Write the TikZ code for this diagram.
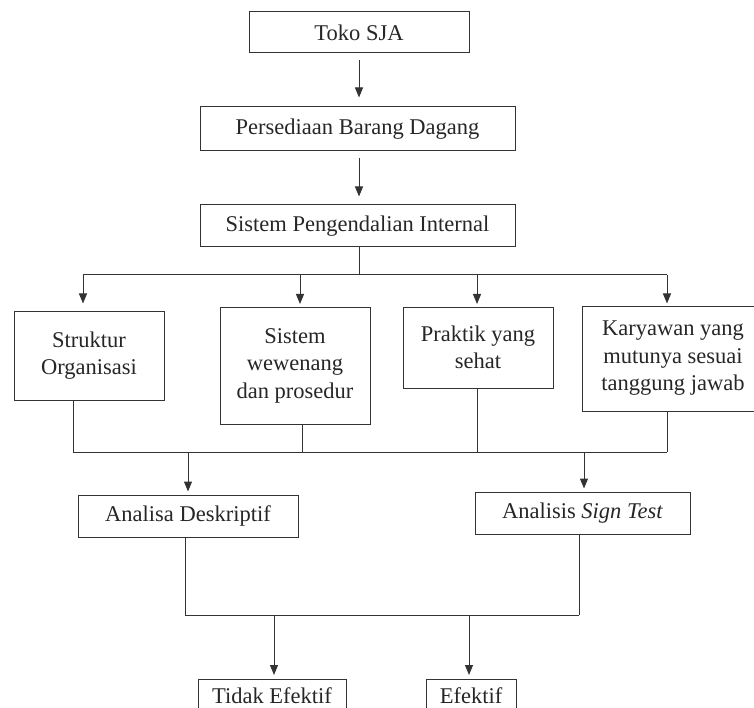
\documentclass[tikz,border=0pt]{standalone}
\usepackage{fontspec}
\setmainfont{Liberation Serif}
\usetikzlibrary{arrows.meta}
\begin{document}
\begin{tikzpicture}[x=1pt,y=-1pt,
  box/.style={draw=black!80, line width=1pt, rectangle, inner sep=0pt, align=center,
    text=black!85, font=\fontsize{22.5}{27.5}\selectfont},
  ln/.style={draw=black!80, line width=1pt},
  arr/.style={ln, -{Triangle[length=10pt,width=8pt]}}]
\useasboundingbox (0,0) rectangle (754,708);
\clip (0,0) rectangle (754,708);
% boxes
\node[box, minimum width=220pt, minimum height=41pt] (toko) at (359,32.5) {Toko SJA};
\node[box, minimum width=315pt, minimum height=44pt] (pers) at (357.5,129) {Persediaan Barang Dagang};
\node[box, minimum width=315pt, minimum height=42pt] (spi) at (357.5,226) {Sistem Pengendalian Internal};
\node[box, minimum width=150pt, minimum height=89pt] (struktur) at (89,355.5) {Struktur\\Organisasi};
\node[box, minimum width=150pt, minimum height=117pt] (sistem) at (295,365.5) {Sistem\\wewenang\\dan prosedur};
\node[box, minimum width=150pt, minimum height=81pt] (praktik) at (478,347.5) {Praktik yang\\sehat};
\node[box, minimum width=182pt, minimum height=105pt] (karyawan) at (673,358.5) {Karyawan yang\\mutunya sesuai\\tanggung jawab};
\node[box, minimum width=220pt, minimum height=42pt] (deskriptif) at (188,516) {Analisa Deskriptif};
\node[box, minimum width=215pt, minimum height=42pt] (sign) at (582.5,513) {Analisis \textit{Sign Test}};
\node[box, minimum width=148pt, inner ysep=8pt, anchor=north] (tidak) at (272,679) {Tidak Efektif};
\node[box, minimum width=90pt, inner ysep=8pt, anchor=north] (efektif) at (471,679) {Efektif};
% top arrows
\draw[arr, shorten <=7pt, shorten >=9pt] (toko.south) -- (toko.south |- pers.north);
\draw[arr, shorten <=7pt, shorten >=8pt] (toko.south |- pers.south) -- (toko.south |- spi.north);
% first bus
\coordinate (b1) at (359,275);
\coordinate (bA) at (83,275);
\coordinate (bB) at (300,275);
\coordinate (bC) at (477,275);
\coordinate (bD) at (667,275);
\draw[ln] (b1 |- spi.south) -- (b1);
\draw[ln] (bA) -- (bD);
\draw[arr, shorten >=7pt] (bA) -- (bA |- struktur.north);
\draw[arr, shorten >=2.5pt] (bB) -- (bB |- sistem.north);
\draw[arr, shorten >=2.5pt] (bC) -- (bC |- praktik.north);
\draw[arr, shorten >=2pt] (bD) -- (bD |- karyawan.north);
% second bus
\coordinate (cA) at (73,452);
\coordinate (cB) at (302,452);
\coordinate (cC) at (477,452);
\coordinate (cD) at (667,452);
\coordinate (cL) at (188,452);
\coordinate (cR) at (584,452);
\draw[ln] (cA |- struktur.south) -- (cA);
\draw[ln] (cB |- sistem.south) -- (cB);
\draw[ln] (cC |- praktik.south) -- (cC);
\draw[ln] (cD |- karyawan.south) -- (cD);
\draw[ln] (cA) -- (cD);
\draw[arr, shorten >=3pt] (cL) -- (cL |- deskriptif.north);
\draw[arr, shorten >=3pt] (cR) -- (cR |- sign.north);
% third bus
\coordinate (dA) at (185,615);
\coordinate (dB) at (579,615);
\coordinate (dL) at (274,615);
\coordinate (dR) at (469,615);
\draw[ln] (dA |- deskriptif.south) -- (dA);
\draw[ln] (dB |- sign.south) -- (dB);
\draw[ln] (dA) -- (dB);
\draw[arr, shorten >=4pt] (dL) -- (dL |- tidak.north);
\draw[arr, shorten >=4pt] (dR) -- (dR |- efektif.north);
\end{tikzpicture}
\end{document}
